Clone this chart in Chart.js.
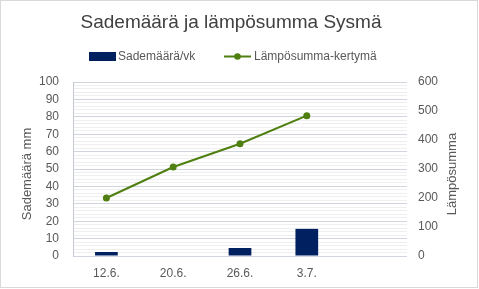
<!DOCTYPE html>
<html>
<head>
<meta charset="utf-8">
<script src="https://cdn.jsdelivr.net/npm/chart.js@4"></script>
<style>
html,body{margin:0;padding:0;background:#fff;}
#wrap{width:479px;height:289px;position:relative;}
</style>
</head>
<body>
<div id="wrap"><canvas id="c" width="479" height="289"></canvas></div>
<script>
const categories = ['12.6.', '20.6.', '26.6.', '3.7.', ''];
const sademaara = [2.3, 0, 4.6, 15.6, null];
const lampösumma = [200, 307, 387, 484, null];
const leftTicks = [0, 10, 20, 30, 40, 50, 60, 70, 80, 90, 100];
const rightTicks = [0, 100, 200, 300, 400, 500, 600];

const FONT = "'Liberation Sans', Arial, sans-serif";
const TXT = '#595959';
const BAR = '#002060';
const LINE = '#4f7f10';

const decor = {
  id: 'decor',
  beforeDraw(chart) {
    const c = chart.ctx;
    c.save();
    c.fillStyle = '#fff';
    c.fillRect(0, 0, chart.width, chart.height);
    c.strokeStyle = '#d9d9d9';
    c.lineWidth = 1;
    c.strokeRect(0.5, 0.5, chart.width - 2, chart.height - 2);
    c.restore();
  },
  afterDraw(chart) {
    const c = chart.ctx;
    const ds = chart.data.datasets;
    const barDs = ds.find(d => d.type === 'bar');
    const lineDs = ds.find(d => d.type === 'line');
    c.save();
    // title
    c.fillStyle = '#404040';
    c.font = '19px ' + FONT;
    c.textAlign = 'center';
    c.textBaseline = 'middle';
    c.fillText('Sademäärä ja lämpösumma Sysmä', 231, 23);
    // legend
    c.font = '12px ' + FONT;
    c.textAlign = 'left';
    c.fillStyle = BAR;
    c.fillRect(89, 52, 27, 9);
    c.fillStyle = TXT;
    c.fillText(barDs.label, 118, 56.5);
    c.strokeStyle = LINE;
    c.lineWidth = 2;
    c.beginPath(); c.moveTo(224, 56.5); c.lineTo(251, 56.5); c.stroke();
    c.fillStyle = LINE;
    c.beginPath(); c.arc(237.5, 56.5, 3.3, 0, Math.PI * 2); c.fill();
    c.fillStyle = TXT;
    c.fillText(lineDs.label, 254, 56.5);
    // axis titles
    c.font = '13px ' + FONT;
    c.textAlign = 'center';
    c.save();
    c.translate(27, 174);
    c.rotate(-Math.PI / 2);
    c.fillText('Sademäärä mm', 0, 0);
    c.restore();
    c.save();
    c.translate(452.5, 174);
    c.rotate(-Math.PI / 2);
    c.fillText('Lämpösumma', 0, 0);
    c.restore();
    c.restore();
  }
};

new Chart(document.getElementById('c'), {
  data: {
    labels: categories,
    datasets: [
      {
        type: 'line',
        label: 'Lämpösumma-kertymä',
        data: lampösumma,
        yAxisID: 'y1',
        borderColor: LINE,
        backgroundColor: LINE,
        borderWidth: 2,
        pointRadius: 3.5,
        pointHoverRadius: 3.5,
        pointBackgroundColor: LINE,
        pointBorderWidth: 0,
        tension: 0,
        order: 0
      },
      {
        type: 'bar',
        label: 'Sademäärä/vk',
        data: sademaara,
        yAxisID: 'y',
        backgroundColor: BAR,
        borderWidth: 0,
        categoryPercentage: 1,
        barPercentage: 0.34,
        order: 1
      }
    ]
  },
  options: {
    responsive: false,
    animation: false,
    events: [],
    layout: { padding: { top: 82, bottom: 0, left: 0, right: 0 } },
    plugins: { legend: { display: false }, title: { display: false }, tooltip: { enabled: false } },
    scales: {
      x: {
        type: 'category',
        offset: true,
        grid: { display: false },
        border: { display: false },
        ticks: { color: TXT, font: { family: FONT, size: 12 }, padding: 2, maxRotation: 0 },
        afterFit(s) { s.height = 33; }
      },
      y: {
        position: 'left',
        min: 0, max: 100,
        afterBuildTicks(s) {
          const t = [];
          for (let v = 0; v <= 100; v += 2) t.push({ value: v });
          s.ticks = t;
        },
        ticks: {
          autoSkip: false,
          color: TXT,
          font: { family: FONT, size: 12 },
          padding: 14,
          callback: (v) => leftTicks.includes(v) ? String(v) : ''
        },
        grid: {
          drawTicks: false,
          color: (ctx) => (ctx.tick && ctx.tick.value % 10 === 0) ? '#d0d5dd' : '#efefef',
          lineWidth: 1
        },
        border: { display: true, color: '#c6cad1' },
        afterFit(s) { s.width = 73; }
      },
      y1: {
        position: 'right',
        min: 0, max: 600,
        afterBuildTicks(s) { s.ticks = rightTicks.map(v => ({ value: v })); },
        ticks: { color: TXT, font: { family: FONT, size: 12 }, padding: 11 },
        grid: { drawOnChartArea: false, drawTicks: false },
        border: { display: false },
        afterFit(s) { s.width = 72; }
      }
    }
  },
  plugins: [decor]
});
</script>
</body>
</html>
